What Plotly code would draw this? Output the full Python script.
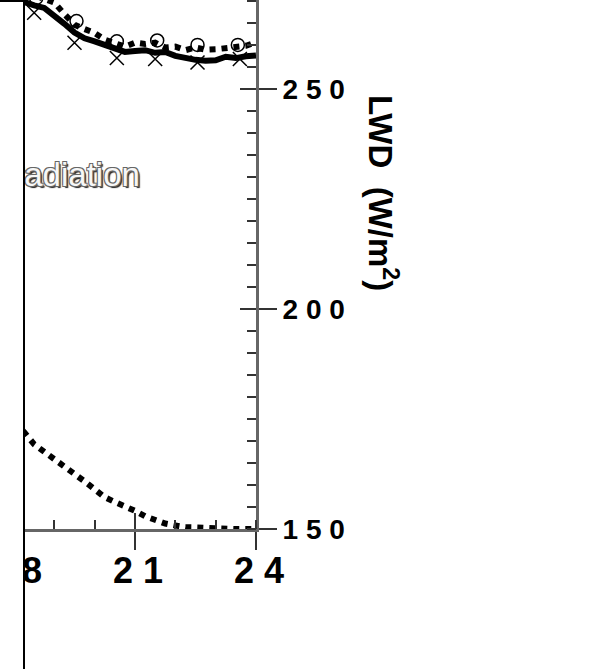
import plotly.graph_objects as go

# ---- data ----
hours = [18.0, 18.25, 18.5, 18.75, 19.0, 19.25, 19.5, 19.75, 20.0, 20.25, 20.5, 20.75,
         21.0, 21.25, 21.5, 21.75, 22.0, 22.25, 22.5, 22.75, 23.0, 23.25, 23.5, 23.75, 24.0]
lwd_solid = [270.5, 269.6, 269.0, 268.4, 266.8, 264.8, 262.8, 261.5, 260.8, 260.0, 259.0, 258.4,
             258.6, 258.8, 258.2, 258.4, 257.5, 257.0, 256.6, 256.4, 256.5, 257.3, 257.0, 257.4, 257.6]
lwd_dotted = [273.0, 272.2, 271.2, 270.5, 269.6, 267.0, 264.6, 263.6, 262.7, 261.2, 260.3, 259.6,
              260.5, 260.2, 260.5, 259.4, 259.6, 258.8, 259.4, 258.9, 259.0, 259.3, 259.6, 259.8, 260.6]
solar = [60.0, 55.0, 48.0, 44.0, 40.0, 35.5, 31.0, 27.0, 22.5, 18.0, 15.3, 13.0,
         10.3, 7.2, 5.2, 3.1, 2.0, 1.0, 0.9, 0.5, 0.2, 0.0, 0.0, 0.0, 0.0]

x_mark_hours = [18.5, 19.5, 20.55, 21.5, 22.55, 23.6]
x_mark_vals = [267.3, 260.5, 257.0, 256.8, 256.0, 256.8]
circ_hours = [18.55, 19.55, 20.55, 21.55, 22.55, 23.55]
circ_vals = [270.6, 265.4, 260.8, 261.0, 260.0, 260.0]

x_tickvals = [18, 21, 24]
x_ticktext = ["1 8", "2 1", "2 4"]
y_tickvals = [150, 200, 250]
y_ticktext = ["1 5 0", "2 0 0", "2 5 0"]
label_text = "Solar radiation"
label_pos = (21.12, 229.8)
y_title = "LWD  (W/m<sup>2</sup>)"

X_RANGE = [17.653, 24.0]
Y_RANGE = [150.0, 270.2]
SW_RANGE = [0, 300]

AXC = "#666666"
TKC = "#333333"
FONT = "Liberation Sans, Arial, Helvetica, sans-serif"

fig = go.Figure()

fig.add_trace(go.Scatter(x=hours, y=solar, mode="lines", yaxis="y3",
                         line=dict(color="black", width=6, dash="dot"), cliponaxis=True))
fig.add_trace(go.Scatter(x=hours, y=lwd_dotted, mode="lines",
                         line=dict(color="black", width=6, dash="dot")))
fig.add_trace(go.Scatter(x=hours, y=lwd_solid, mode="lines",
                         line=dict(color="black", width=6)))
fig.add_trace(go.Scatter(x=x_mark_hours, y=x_mark_vals, mode="markers",
                         marker=dict(symbol="x-thin-open", size=14, color="black",
                                     line=dict(width=1.5, color="black"))))
fig.add_trace(go.Scatter(x=circ_hours, y=circ_vals, mode="markers", xaxis="x2", yaxis="y2",
                         marker=dict(symbol="circle-open", size=13, color="black",
                                     line=dict(width=1.5, color="black"))))
fig.add_trace(go.Scatter(x=[label_pos[0]], y=[label_pos[1]], mode="text", text=[label_text],
                         textposition="middle left", cliponaxis=True,
                         textfont=dict(family=FONT, size=33, color="#f7f7f7",
                                       shadow="-1px -1px 0 #666, 1px -1px 0 #666, -1px 1px 0 #666, 1px 1px 0 #666, 2px 2px 1px #222")))

fig.update_layout(
    width=596, height=669,
    margin=dict(l=0, r=340, t=0, b=140, pad=0, autoexpand=False),
    paper_bgcolor="white", plot_bgcolor="white",
    showlegend=False,
    xaxis=dict(range=X_RANGE, tickmode="array", tickvals=x_tickvals, ticktext=x_ticktext,
               ticks="outside", ticklen=18, tickwidth=2, tickcolor=TKC,
               minor=dict(dtick=1, tick0=0, ticks="inside", ticklen=9, tickwidth=2, tickcolor=TKC),
               showline=True, linecolor=AXC, linewidth=3, showgrid=False, zeroline=False,
               tickfont=dict(family=FONT, size=36, color="black", weight="bold"),
               ticklabelshift=3, ticklabelstandoff=-10, ticklabeloverflow="allow", automargin=False),
    xaxis2=dict(matches="x", overlaying="x", anchor="y", side="bottom", range=X_RANGE,
                tickmode="array", tickvals=x_tickvals, ticks="inside", ticklen=16, tickwidth=2,
                tickcolor=TKC, showticklabels=False, showline=False, showgrid=False, zeroline=False),
    yaxis=dict(range=Y_RANGE, side="right", tickmode="array", tickvals=y_tickvals, ticktext=y_ticktext,
               ticks="outside", ticklen=18, tickwidth=2, tickcolor=TKC,
               minor=dict(dtick=5, tick0=0, ticks="inside", ticklen=9, tickwidth=2, tickcolor=TKC),
               showline=True, linecolor=AXC, linewidth=3, showgrid=False, zeroline=False,
               tickfont=dict(family=FONT, size=28, color="black", weight="bold"),
               ticklabeloverflow="allow", automargin=False),
    yaxis2=dict(matches="y", overlaying="y", anchor="x", side="right", range=Y_RANGE,
                tickmode="array", tickvals=y_tickvals, ticks="inside", ticklen=16, tickwidth=2,
                tickcolor=TKC, showticklabels=False, showline=False, showgrid=False, zeroline=False),
    yaxis3=dict(overlaying="y", side="left", range=SW_RANGE, visible=False),
    shapes=[dict(type="rect", xref="paper", yref="paper", x0=-1, x1=24 / 256, y0=-1, y1=528 / 529,
                 fillcolor="white", line=dict(color="black", width=2), layer="above")],
    annotations=[dict(text=y_title, textangle=90, xref="paper", yref="paper",
                      x=(383 - 0) / 256, y=(529 - 193) / 529, xanchor="center", yanchor="middle",
                      showarrow=False, font=dict(family=FONT, size=33, color="black", weight="bold"))],
)

fig.write_html("out.html")
